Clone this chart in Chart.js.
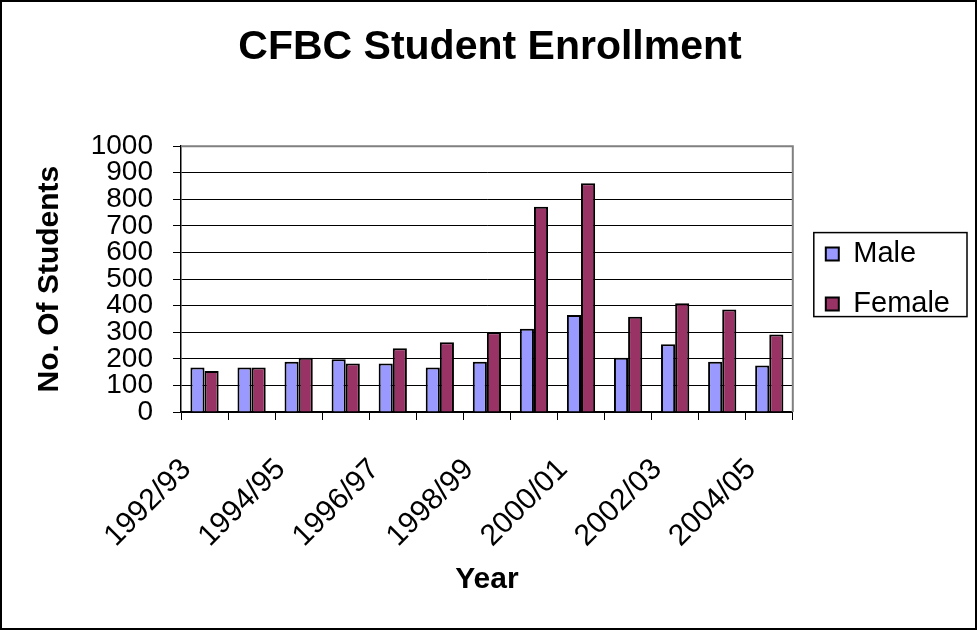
<!DOCTYPE html>
<html>
<head>
<meta charset="utf-8">
<title>CFBC Student Enrollment</title>
<script src="https://cdn.jsdelivr.net/npm/chart.js@4/dist/chart.umd.min.js"></script>
<style>
  html, body { margin: 0; padding: 0; background: #fff; }
  #wrap { width: 977px; height: 630px; position: relative; }
</style>
</head>
<body>
<div id="wrap"><canvas id="enrollChart"></canvas></div>
<script>
// enrollment data
const years = ['1992/93','1993/94','1994/95','1995/96','1996/97','1997/98','1998/99',
               '1999/00','2000/01','2001/02','2002/03','2003/04','2004/05'];
const male   = [167, 167, 189, 198, 182, 167, 189, 313, 365, 204, 255, 189, 175];
const female = [154, 167, 204, 182, 240, 262, 300, 772, 861, 358, 409, 386, 292];
const yMax = 1000, yStep = 100;

const FONT = '"Liberation Sans", Arial, sans-serif';
const LEGEND_SHIFT = 12;

// white page, grey plot frame, box round the legend and the whole chart
const framePlugin = {
  id: 'frames',
  beforeDraw(chart){
    const c = chart.ctx;
    c.save();
    c.fillStyle = '#fff';
    c.fillRect(0, 0, chart.width, chart.height);
    c.restore();
  },
  afterLayout(chart){
    // nudge legend a bit away from the plot, like the original
    const lg = chart.legend;
    lg.left += LEGEND_SHIFT; lg.right += LEGEND_SHIFT;
  },
  afterDraw(chart){
    const c = chart.ctx, a = chart.chartArea, lg = chart.legend;
    c.save();
    c.strokeStyle = '#808080';
    c.lineWidth = 2;
    c.beginPath();
    c.moveTo(a.left, a.top); c.lineTo(a.right, a.top); c.lineTo(a.right, a.bottom);
    c.stroke();
    const boxes = lg.legendHitBoxes;
    if (boxes && boxes.length){
      const x0 = lg.left + lg.options.labels.padding - 12;
      const x1 = x0 + 12 + Math.max(...boxes.map(b => b.width)) + 17;
      const y0 = Math.min(...boxes.map(b => b.top)) - 7;
      const y1 = Math.max(...boxes.map(b => b.top + b.height)) - 2;
      c.strokeStyle = '#000';
      c.lineWidth = 1.5;
      c.strokeRect(x0, y0, x1 - x0, y1 - y0);
    }
    c.strokeStyle = '#000';
    c.lineWidth = 2;
    c.strokeRect(1, 1, chart.width - 2, chart.height - 2);
    c.restore();
  }
};

const ctx = document.getElementById('enrollChart').getContext('2d');
new Chart(ctx, {
  type: 'bar',
  data: {
    labels: years,
    datasets: [
      { label: 'Male', data: male, backgroundColor: '#9999FF', borderColor: '#000', borderWidth: 2,
        categoryPercentage: 0.6, barPercentage: 1.0 },
      { label: 'Female', data: female, backgroundColor: '#993366', borderColor: '#000', borderWidth: 2,
        categoryPercentage: 0.6, barPercentage: 1.0 }
    ]
  },
  options: {
    responsive: true,
    maintainAspectRatio: false,
    animation: false,
    layout: { padding: { left: 32, right: 29, top: 0, bottom: 0 } },
    plugins: {
      title: {
        display: true,
        text: 'CFBC Student Enrollment',
        color: '#000',
        font: { family: FONT, size: 41, weight: 'bold' },
        padding: { top: 23, bottom: 74 }
      },
      legend: {
        position: 'right',
        fullSize: false,
        labels: {
          color: '#000',
          font: { family: FONT, size: 29 },
          boxWidth: 13,
          boxHeight: 13,
          padding: 21
        }
      },
      tooltip: { enabled: false }
    },
    scales: {
      x: {
        offset: true,
        grid: { display: true, drawOnChartArea: false, offset: true, color: '#000', tickLength: 8 },
        border: { color: '#000', width: 1.5 },
        ticks: {
          autoSkip: false,
          maxRotation: 45,
          minRotation: 45,
          padding: 32,
          labelOffset: -18,
          color: '#000',
          font: { family: FONT, size: 30 },
          callback: (v, i) => (i % 2 === 0 ? years[i] : '')
        },
        title: {
          display: true,
          text: 'Year',
          color: '#000',
          font: { family: FONT, size: 30, weight: 'bold' },
          padding: { top: 32, bottom: 32 }
        },
        afterFit(scale){ scale.height = 218; }
      },
      y: {
        min: 0,
        max: yMax,
        grid: { color: '#000', lineWidth: 1, tickLength: 8 },
        border: { color: '#000', width: 1.5 },
        ticks: {
          stepSize: yStep,
          autoSkip: false,
          color: '#000',
          padding: 20,
          font: { family: FONT, size: 28 },
          callback: v => String(v)
        },
        title: {
          display: true,
          text: 'No. Of Students',
          color: '#000',
          font: { family: FONT, size: 30, weight: 'bold' },
          padding: { top: 0, bottom: 0 }
        },
        afterFit(scale){ scale.width = 149; }
      }
    }
  },
  plugins: [framePlugin]
});
</script>
</body>
</html>
